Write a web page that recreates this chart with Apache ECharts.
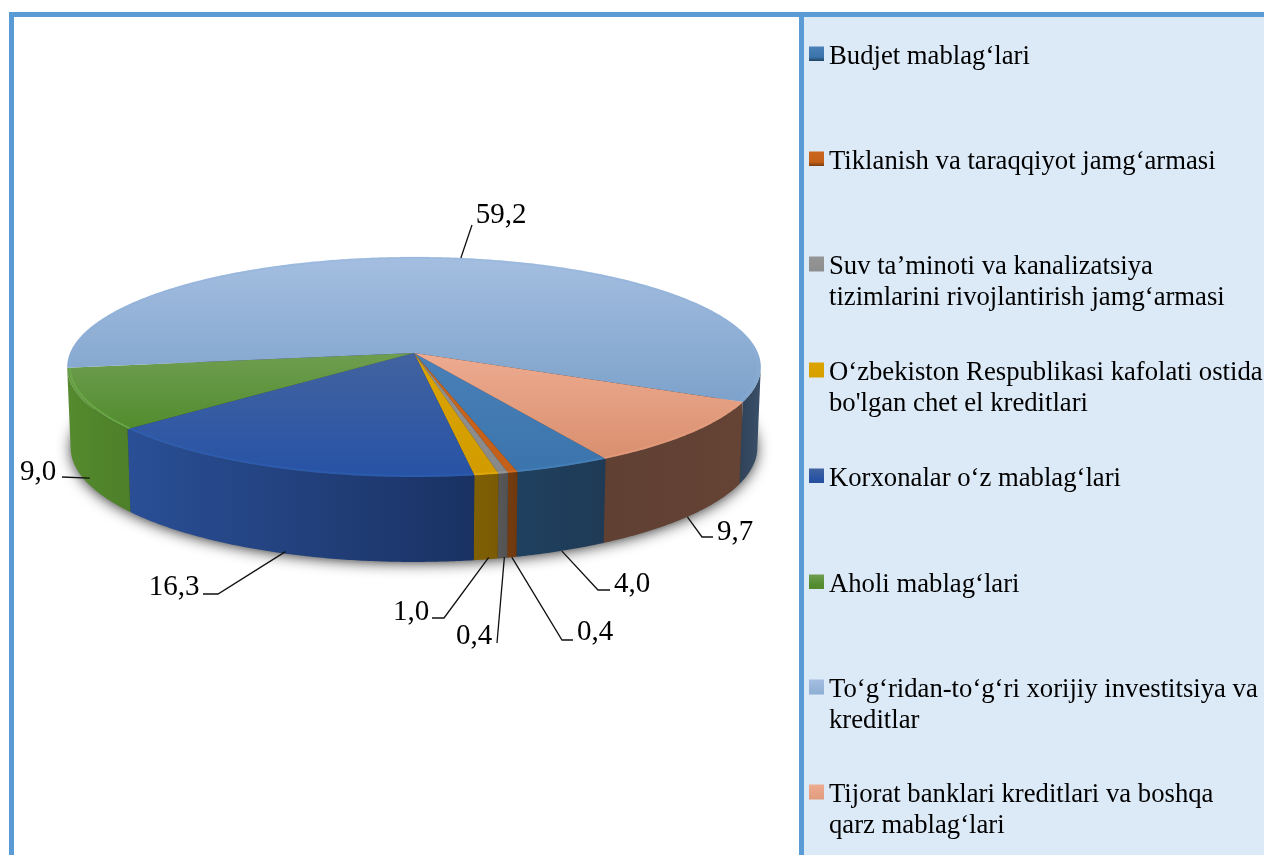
<!DOCTYPE html>
<html>
<head>
<meta charset="utf-8">
<style>html,body{margin:0;padding:0;background:#fff}#c{width:1264px;height:855px}</style>
<script src="https://cdn.jsdelivr.net/npm/echarts@6/dist/echarts.min.js"></script>
</head>
<body>
<div id="c"></div>
<script>
// ---- data ----
var categories = [
  "Budjet mablag‘lari",
  "Tiklanish va taraqqiyot jamg‘armasi",
  "Suv ta’minoti va kanalizatsiya\ntizimlarini rivojlantirish jamg‘armasi",
  "O‘zbekiston Respublikasi kafolati ostida\nbo'lgan chet el kreditlari",
  "Korxonalar o‘z mablag‘lari",
  "Aholi mablag‘lari",
  "To‘g‘ridan-to‘g‘ri xorijiy investitsiya va\nkreditlar",
  "Tijorat banklari kreditlari va boshqa\nqarz mablag‘lari"
];
var values = [4.0, 0.4, 0.4, 1.0, 16.3, 9.0, 59.2, 9.7];
var valueLabels = ["4,0", "0,4", "0,4", "1,0", "16,3", "9,0", "59,2", "9,7"];

// ---- styles ----
var topLight = ['#4a80b8','#cc661e','#959595','#dca400','#42639f','#6e9e50','#a4bee0','#eeab90'];
var topDark  = ['#3b74ac','#c25f18','#888888','#d29c00','#2753a6','#528c2e','#7da2cb','#d88f6f'];
var wallA    = ['#1f4160','#743c10','#585858','#806005','#2a4f96','#558a2e','#2f4258','#5f4033'];
var wallB    = ['#1f3a55','#6e380e','#525252','#7a5a04','#1a3263','#4d8029','#3a4f69','#654335'];
var rimColor = ['#4a86c0','#d87028','#a0a0a0','#e8b010','#2e60b4','#6fae4c','#8fb3dc','#e8a080'];
var rimAlpha = [0.6,0.6,0.6,0.6,0.6,0.7,0.35,0.5];
var legendTops = [41.5, 146.5, 251.5, 357.5, 463.5, 569.5, 674.5, 779.5];

// ---- pie projection ----
var P = {cx:414, cy:353, R:344, A:108.2, k:0.1273, start:60.3, drop:80, dropScale:1.04, xScale:0.99};
function topPt(t){
  var r=t*Math.PI/180,u=Math.cos(r),v=Math.sin(r),w=1-P.k*v;
  return [P.cx+P.R*u/w, P.cy+P.A*v/w];
}
function bottomPt(t){
  var p=topPt(t);
  return [P.cx+(p[0]-P.cx)*P.xScale, P.cy+P.drop+(p[1]-P.cy)*P.dropScale];
}
function arc(fn,a,b,rev){
  var n=Math.max(2,Math.ceil(Math.abs(b-a)/0.5)),pts=[];
  for(var i=0;i<=n;i++){pts.push(fn(a+(b-a)*i/n));}
  return rev?pts.reverse():pts;
}
var total=values.reduce(function(s,v){return s+v;},0);
function angles(i){
  var s=0;for(var j=0;j<i;j++)s+=values[j];
  return [P.start+s/total*360, P.start+(s+values[i])/total*360];
}
var silhouette=Math.asin(P.k)*180/Math.PI;
function frontParts(a,b){
  var out=[];
  [[silhouette,180-silhouette],[360+silhouette,540-silhouette]].forEach(function(w){
    var l=Math.max(a,w[0]),h=Math.min(b,w[1]);
    if(h>l)out.push([l,h]);
  });
  return out;
}
// leader-line bends and label centres on the page
var routes = [
  {via:[[598,590],[610,590]], at:[632,584]},
  {via:[[562,640],[573,640]], at:[595,632]},
  {via:[[497,643]],           at:[474,636], nudge:[2,-1]},
  {via:[[444,618],[432,618]], at:[411,612], nudge:[3,-2]},
  {via:[[218,594],[203,594]], at:[174,587], nudge:[7,-1]},
  {via:[[62,477]],            at:[38,472],  nudge:[4,-3]},
  {via:[[472,225]],           at:[501,215], back:true},
  {via:[[702,537],[713,537]], at:[735,532]}
];
function vGrad(c1,c2){return {type:'linear',x:0,y:0,x2:0,y2:1,colorStops:[{offset:0,color:c1},{offset:1,color:c2}]};}
function hGrad(c1,c2){return {type:'linear',x:0,y:0,x2:1,y2:0,colorStops:[{offset:0,color:c1},{offset:1,color:c2}]};}

var series=categories.map(function(name,i){
  return {
    type:'custom', name:name, coordinateSystem:'none', silent:true,
    itemStyle:{color:{type:'linear',x:0,y:0,x2:0,y2:1,colorStops:[
      {offset:0,color:topLight[i]},{offset:0.5,color:topDark[i]},{offset:0.7,color:wallA[i]},{offset:0.7,color:'rgba(0,0,0,0)'},{offset:1,color:'rgba(0,0,0,0)'}]}},
    data:[values[i]],
    renderItem:function(){
      var an=angles(i),a=an[0],b=an[1],kids=[];
      frontParts(a,b).forEach(function(p){
        kids.push({type:'polygon',shape:{points:arc(topPt,p[0],p[1]).concat(arc(bottomPt,p[0],p[1],true))},
          style:{fill:hGrad(wallA[i],wallB[i])}});
      });
      kids.push({type:'polygon',shape:{points:[[P.cx,P.cy]].concat(arc(topPt,a,b))},
        style:{fill:vGrad(topLight[i],topDark[i])}});
      kids.push({type:'polyline',shape:{points:arc(function(t){
          var p=topPt(t);return [P.cx+(p[0]-P.cx)*0.992,P.cy+(p[1]-P.cy)*0.992];
        },a,b)},style:{stroke:rimColor[i],lineWidth:2,fill:'none',opacity:rimAlpha[i]}});
      var r=routes[i],mid=(a+b)/2,start=r.back?topPt(mid):bottomPt(mid);
      if(r.nudge){start=[start[0]+r.nudge[0],start[1]+r.nudge[1]];}
      kids.push({type:'polyline',shape:{points:[start].concat(r.via)},style:{stroke:'#111',lineWidth:1.3,fill:'none'},z2:10});
      kids.push({type:'text',z2:11,style:{text:valueLabels[i],x:r.at[0],y:r.at[1],align:'center',verticalAlign:'middle',
        fontFamily:'Liberation Serif',fontSize:29,fill:'#000'}});
      return {type:'group',children:kids};
    }
  };
});

var legends=categories.map(function(name,i){
  var two=name.indexOf('\n')>=0;
  return {
    data:[name], left:809, top:legendTops[i], orient:'vertical', selectedMode:false, padding:0,
    itemWidth:15, itemHeight:two?52:21,
    icon:two?'path://M0 0H15V15H0ZM0 52L0 52.01':'path://M0 0H15V15H0ZM0 21L0 21.01',
    textStyle:{fontFamily:'Liberation Serif',fontSize:26.7,color:'#000',lineHeight:31}
  };
});

var chart=echarts.init(document.getElementById('c'),null,{renderer:'canvas'});
chart.setOption({
  animation:false,
  backgroundColor:'#fff',
  legend:legends,
  series:series,
  graphic:[
    {type:'rect',z:0,silent:true,shape:{x:804,y:14,width:460,height:841},style:{fill:'#dce9f6'}},
    {type:'rect',z:0,silent:true,shape:{x:9,y:12,width:1255,height:5},style:{fill:'#5b9bd5'}},
    {type:'rect',z:0,silent:true,shape:{x:9,y:12,width:5,height:843},style:{fill:'#5b9bd5'}},
    {type:'rect',z:0,silent:true,shape:{x:799,y:12,width:5,height:843},style:{fill:'#5b9bd5'}},
    {type:'ellipse',z:1,silent:true,shape:{cx:P.cx,cy:449,rx:341,ry:112},
      style:{fill:'#333',shadowBlur:16,shadowColor:'rgba(0,0,0,1)'}}
  ]
});
</script>
</body>
</html>
